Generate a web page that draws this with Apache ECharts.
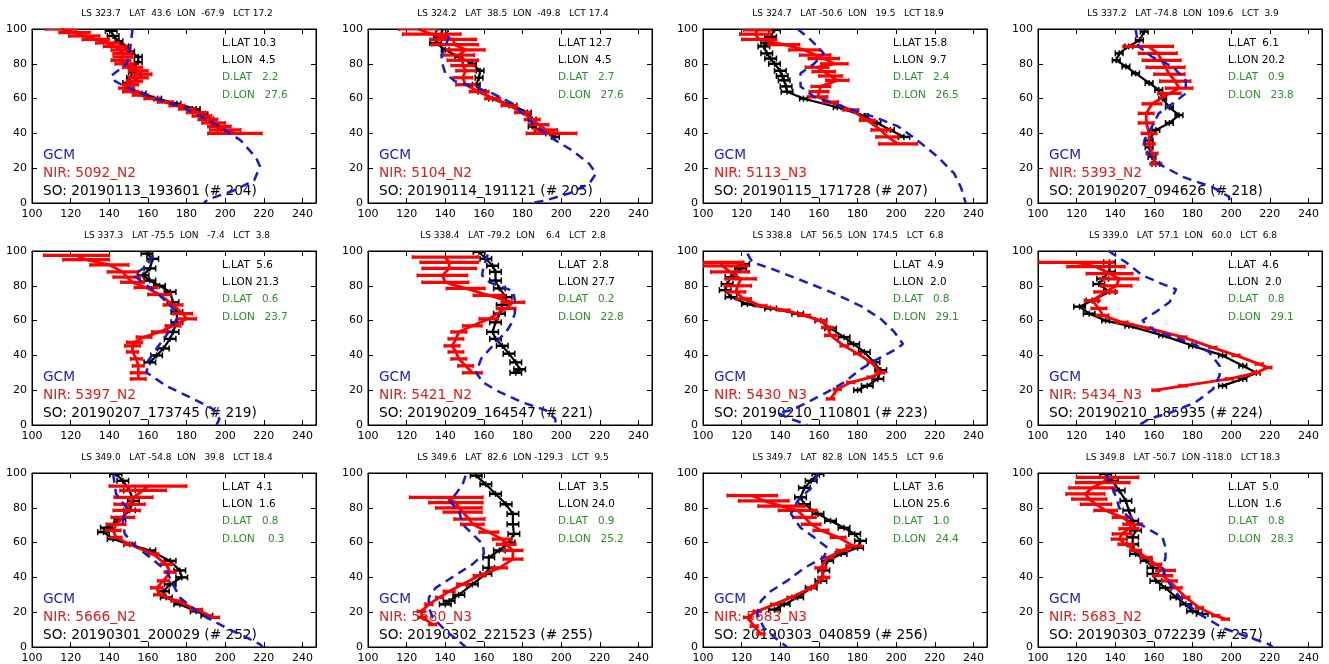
<!DOCTYPE html>
<html><head><meta charset="utf-8">
<script src="https://cdn.jsdelivr.net/npm/echarts@6.0.0/dist/echarts.min.js"></script>
<style>html,body{margin:0;padding:0;background:#fff}#c{width:1329px;height:664px}</style>
</head><body><div id="c"></div>
<script>
// ---------- axis ticks ----------
const xTicks = [100,120,140,160,180,200,220,240];
const yTicks = [0,20,40,60,80,100];
const X_MIN = 100, X_MAX = 247, Y_MIN = 0, Y_MAX = 100;

// ---------- panel texts ----------
const titles = [
 "LS 323.7   LAT  43.6  LON  -67.9   LCT 17.2",
 "LS 324.2   LAT  38.5  LON  -49.8   LCT 17.4",
 "LS 324.7   LAT -50.6  LON   19.5   LCT 18.9",
 "LS 337.2   LAT -74.8  LON  109.6   LCT  3.9",
 "LS 337.3   LAT -75.5  LON   -7.4   LCT  3.8",
 "LS 338.4   LAT -79.2  LON    6.4   LCT  2.8",
 "LS 338.8   LAT  56.5  LON  174.5   LCT  6.8",
 "LS 339.0   LAT  57.1  LON   60.0   LCT  6.8",
 "LS 349.0   LAT -54.8  LON   39.8   LCT 18.4",
 "LS 349.6   LAT  82.6  LON -129.3   LCT  9.5",
 "LS 349.7   LAT  82.8  LON  145.5   LCT  9.6",
 "LS 349.8   LAT -50.7  LON -118.0   LCT 18.3"
];
const lLat = ["10.3","12.7","15.8","6.1","5.6","2.8","4.9","4.6","4.1","3.5","3.6","5.0"];
const lLon = ["4.5","4.5","9.7","20.2","21.3","27.7","2.0","2.0","1.6","24.0","25.6","1.6"];
const dLat = ["2.2","2.7","2.4","0.9","0.6","0.2","0.8","0.8","0.8","0.9","1.0","0.8"];
const dLon = ["27.6","27.6","26.5","23.8","23.7","22.8","29.1","29.1","0.3","25.2","24.4","28.3"];
const nirLabels = ["5092_N2","5104_N2","5113_N3","5393_N2","5397_N2","5421_N2","5430_N3","5434_N3","5666_N2","5680_N3","5683_N3","5683_N2"];
const soLabels = ["20190113_193601 (# 204)","20190114_191121 (# 205)","20190115_171728 (# 207)","20190207_094626 (# 218)",
 "20190207_173745 (# 219)","20190209_164547 (# 221)","20190210_110801 (# 223)","20190210_185935 (# 224)",
 "20190301_200029 (# 252)","20190302_221523 (# 255)","20190303_040859 (# 256)","20190303_072239 (# 257)"];

// ---------- data: GCM [alt, T]; SO / NIR [alt, T, err] ----------
const gcm1 = [[100,152],[90,151],[80,149],[73,141],[70,143],[67,148],[61,161],[55,178],[46,194],[36,208],[26,216],[21,218],[13,215],[7,204],[2,191],[0,189]];
const so1  = [[99,141,3],[96,142,3],[93,145,2],[90,148,2],[87,151,2],[84,155,2],[81,155,2],[78,152,2],[75,152,2],[72,151,2],[69,149,2],[66,150,2],[63,157,2],[60,165,2],[57,175,2],[54,185,2],[51,189,2],[48,192,2],[45,195,2],[42,198,2]];
const nir1 = [[100,115,8],[98,122,8],[96,127,8],[94,133,7],[92,139,6],[90,143,6],[88,146,5],[86,147,5],[84,147,5],[82,146,5],[80,148,5],[78,152,5],[76,155,5],[74,157,5],[72,155,5],[70,153,4],[68,151,4],[66,149,4],[64,151,4],[62,156,4],[60,162,4],[58,169,4],[56,175,4],[54,180,4],[52,185,5],[50,188,5],[48,191,5],[46,194,6],[44,197,6],[42,200,8],[40,205,14]];

const gcm2 = [[96,142],[90,140],[85,138],[80,138.5],[74.5,140],[70,145],[67,154],[63,164.5],[57,175],[47.5,183.5],[38,194],[30,206],[22.5,214.5],[17,218],[11,214.5],[5.5,204],[1.5,192],[0,185]];
const so2  = [[100,138.5,3],[97,138,3],[95,137,3],[92,135,3],[88,140,2],[84,147,2],[80,154,2],[76,158,2],[72,157.5,2],[68,156,2],[64,159,2],[60,164.5,2],[56,175,2],[52,182.5,2],[48,185,2],[44,185,2],[42,188.5,2],[40,194,2],[38,197,2]];
const nir2 = [[100,126,10],[97,133,15],[94,144,12],[91,145,12],[88,150.5,10],[85,147,8],[82,149,8],[79,149,6],[76,150.5,5],[72,149,5],[68,150.5,5],[64,157.5,5],[60,164.5,4],[56,173,4],[52,180,4],[48,185,4],[45,188.5,5],[42,192,6],[40,195,13]];

const gcm3 = [[100,149],[93.5,156],[86,162.5],[80,157.5],[74.5,150.5],[67,150.5],[61,157.5],[55,173],[49.5,188.5],[44,201],[36,211],[26.5,221.5],[17,230],[9,233.5],[0,236]];
const so3  = [[99.5,137,3],[95.5,135,3],[92,133,3],[90,131.5,3],[86,133,3],[83,135,3],[80,137,3],[76,140,3],[73,141,3],[70.5,142,3],[67,143,3],[64,143.5,3],[60,152,2],[55,169.5,2],[50,183.5,2],[46,190,2],[42,197,2],[38,204,3]];
const nir3 = [[99.5,128,7],[97,127,8],[94,129,9],[91,142,8],[88,152.5,8],[85,158,8],[83,162.5,8],[80,168,7],[78,159,6],[75.5,162.5,6],[73,166,6],[70.5,169.5,6],[67,161,5],[64,160,5],[61,159.5,5],[58,166,4],[53.5,176.5,4],[47.5,185,4],[42,192,5],[38,195.5,6],[34,201,10]];

const gcm4 = [[100,150.5],[90,152],[84,159],[78.5,169.5],[70.5,176.5],[63,176.5],[57,169.5],[51.5,162.5],[44,159],[36,155],[30,156],[22.5,162.5],[15,175],[9,190.5],[3.5,199],[0,199]];
const so4  = [[98.5,155,2],[93.5,152.5,2],[90,147,2],[86,142,2],[82,140.5,2],[78.5,145.5,2],[74.5,150.5,2],[69,157.5,2],[65,162.5,2],[60,164.5,2],[55,168,2],[50.5,173,2],[46,168,2],[42,161,2],[36,157.5,2],[32,157.5,2],[26.5,159,2],[22.5,161,2]];
const nir4 = [[90,157,13],[86,162,10],[82,164,10],[78,166,10],[74,168,8],[70,171,8],[66,173,7],[63,168,6],[57,159,5],[51.5,156,4],[46,156,4],[40,157.5,4],[34,157.5,3],[28.5,159,3],[22.5,161,3]];

const gcm5 = [[97.5,162.5],[91.5,159.5],[86,152.5],[82,157.5],[74.5,166],[67,173],[61,175],[51.5,169.5],[44,164.5],[36,159.5],[30,159.5],[22.5,169.5],[15,183.5],[9,194],[3.5,197],[0,195.5]];
const so5  = [[98.5,159.5,3],[95.5,162.5,3],[90,161,3],[86,157.5,3],[83,161,3],[80,166,3],[76.5,171.5,3],[70.5,173,3],[65,175,3],[59,175,3],[53.5,173,3],[49.5,171.5,3],[44,168,3],[40,164.5,3],[36,161,3]];
const nir5 = [[97.5,123,17],[95,128,12],[92,140,10],[88,147,8],[85,149,7],[82,152,6],[79,159,6],[75,166,6],[69,173,5],[64,178,5],[61,180,5],[57,173,4],[53.5,166,4],[50.5,158,4],[47.5,153,4],[45.5,152,4],[42,152,3],[38,154,3],[34,155,3],[30,155,4],[26.5,155,4]];

const gcm6 = [[98,162],[92,160],[86,159],[82,163],[77,175],[72,176],[64,176],[58,174],[53.5,171.5],[45.5,164.5],[38,158.5],[30,156],[24.5,159.5],[19,168],[13,180],[8.5,192],[3.5,197],[0,197]];
const so6  = [[99.5,157.5,3],[95.5,161,3],[91.5,164.5,3],[88,166,3],[83,166,3],[78.5,168,3],[73.5,171.5,3],[69,169.5,3],[64,168,3],[59,166,3],[53.5,164.5,3],[49.5,166,3],[45.5,169.5,3],[41,173,3],[36,176.5,3],[32,178.5,3],[30,176.5,3]];
const nir6 = [[96.5,140,17],[93.5,142,15],[90,142,14],[86,138.5,13],[82,140,12],[78.5,150.5,10],[74.5,162.5,8],[70.5,175,6],[67,171.5,5],[61,162.5,5],[57,154,5],[53.5,147,4],[49.5,145.5,4],[45.5,143.5,4],[42,145.5,4],[38,147,4],[34,150.5,4],[30,154,5]];

const gcm7 = [[98.5,123],[93.5,125.5],[90,135],[84,149],[76.5,166],[68.5,181.5],[61,192],[53.5,199],[46.5,203.5],[43,199],[38,190.5],[32,181.5],[24.5,173],[19,164.5],[13,154],[8.5,145.5],[7,138.5],[3.5,145.5],[0,154]];
const so7  = [[92.5,121,3],[90,119.5,3],[85,114.5,3],[81,112.5,3],[77.5,111.5,3],[73.5,114.5,3],[69.5,123,3],[67,135,3],[64,149,3],[60,161,3],[55.5,166,3],[50.5,173,3],[46.5,178,3],[42,183.5,3],[36,188.5,3],[31.5,192,3],[26.5,190.5,3],[22.5,185,3],[20,180,2]];
const nir7 = [[93.5,109,12],[91.5,110,13],[88,114,10],[84,119.5,8],[80,118,7],[76.5,117,5],[72.5,121,4],[68.5,130,3],[66,142,3],[63,152.5,3],[60,161,3],[56,164.5,3],[51.5,166,3],[45.5,173,2],[41,180,2],[36,187,2],[30,192,2],[27.5,187,2],[24.5,176.5,2],[20.5,169.5,2],[15,166,2]];

const gcm8 = [[100,136.5],[93.5,145.5],[86,154],[81,164.5],[78,171.5],[70.5,168],[65,161],[60,154],[53.5,161],[47.5,178.5],[42,188.5],[34,194],[28.5,194],[20.5,190.5],[13,181.5],[7.5,169.5],[3.5,157.5],[0,152.5]];
const so8  = [[93.5,137,3],[88,137,3],[84,133.5,3],[81,131.5,3],[76.5,137,3],[71.5,128,3],[68,121.5,3],[64,126.5,3],[60,135,2],[57,147,2],[51.5,164.5,2],[45.5,180,2],[40,195.5,2],[34,206,2],[30,213,2],[26.5,206,2],[22.5,195.5,2]];
const nir8 = [[93.5,119.5,19],[91,130,15],[87,137,12],[84,142,10],[80,140.5,8],[76.5,135,6],[71.5,128,4],[67,131.5,4],[63,133.5,3],[59,143.5,3],[55.5,157.5,2],[50.5,175,2],[44.5,190.5,2],[40,202.5,2],[35,214.5,2],[33,219,2],[30,213,2],[26.5,199,2],[22.5,175,2],[20,161,2]];

const gcm9 = [[99.5,142],[88,143.5],[80,149],[72.5,147],[65,148],[59,152.5],[51.5,161],[44,169.5],[36,173],[28.5,176.5],[19,187],[11,200.5],[5.5,211],[1.5,218],[0,219.5]];
const so9  = [[99.5,143.5,3],[95.5,147,3],[90,150.5,3],[84,152.5,3],[78.5,150.5,3],[73.5,145.5,3],[68.5,138.5,3],[66,137,3],[62,142,3],[59,150.5,3],[55.5,161,3],[49.5,171.5,3],[44,176.5,3],[40,177.5,3],[36,171.5,3],[32,168,3],[28.5,169.5,3],[24.5,176.5,3],[20.5,185,3],[18,190.5,3]];
const nir9 = [[92.5,160,20],[90,157.5,12],[86,152.5,10],[82,150.5,8],[78.5,149,7],[74.5,147,6],[70.5,143.5,5],[67,142,4],[63,143.5,3],[59,150.5,3],[53.5,162.5,3],[47.5,169.5,3],[43,171.5,3],[38,168,3],[34,164.5,3],[30,166,3],[26.5,175,3],[21.5,185,3],[17,194,3]];

const gcm10 = [[98.5,150.5],[93.5,149],[88,145.5],[84,142],[78.5,147],[70.5,149],[65,154],[59,159.5],[53.5,160],[47.5,154],[40,143.5],[34,135],[28.5,131.5],[22.5,131.5],[17,133.5],[9,140.5],[3.5,147],[0,150.5]];
const so10  = [[98.5,156,3],[93.5,161,3],[88,166,3],[82,171.5,3],[76.5,175,3],[70.5,175,3],[65,175.5,3],[60,173,3],[55.5,168,3],[51.5,162.5,3],[45.5,162.5,3],[42,161,3],[36,154,3],[30,147,3],[26.5,142,3],[24.5,140,3]];
const nir10 = [[86,140.5,19],[83,145.5,14],[80,147,12],[77.5,149,10],[73.5,152.5,8],[70.5,154,6],[66,162.5,5],[62,169.5,5],[59,171.5,5],[55.5,175,5],[50.5,175,5],[45.5,168,4],[41,157.5,3],[36,149,3],[32,142,3],[28.5,137,2],[24.5,131.5,2],[20.5,127.5,2],[17,128,2],[13,133.5,2]];

const gcm11 = [[99.5,159.5],[91.5,156],[84,149],[76.5,145.5],[68.5,150.5],[63,157.5],[57,164.5],[51.5,162.5],[45.5,152.5],[38,143.5],[32,135],[26.5,130],[19,128],[11,131.5],[5.5,137],[0,143.5]];
const so11  = [[99.5,159.5,3],[95.5,156,3],[91.5,152.5,3],[86,150.5,3],[82,152.5,3],[76.5,159.5,3],[72.5,166,3],[68.5,173,3],[65,178.5,3],[61,181.5,3],[57,180,3],[53.5,171.5,3],[49.5,164.5,3],[44,162.5,3],[38,161,3],[34,156,3],[28.5,149,3],[24.5,142,3],[21.5,137,3]];
const nir11 = [[87,125.5,13],[84,131.5,13],[81,140.5,12],[78.5,149,10],[74.5,152.5,6],[70.5,156,5],[67,161,4],[63,170,4],[58,178,4],[55.5,172,3],[51.5,164.5,3],[45.5,161,3],[40,162.5,3],[34,156,2],[28.5,145.5,2],[24.5,137,2],[20.5,128,2],[17,123,2],[12,126.5,2],[7.5,130,2]];

const gcm12 = [[99.5,135],[91.5,138.5],[86,140.5],[80,142],[74.5,147],[68.5,156],[63,164.5],[57,166],[51.5,166],[45.5,164.5],[40,166],[34,169.5],[26.5,175],[19,183.5],[11,195.5],[5.5,209.5],[1.5,219.5],[0,221.5]];
const so12  = [[99.5,135,3],[95.5,138.5,3],[90,142,3],[84,145.5,3],[78.5,147,3],[72.5,149,3],[67,150.5,3],[63,149,3],[59,149,3],[53.5,150.5,3],[49.5,156,3],[45.5,159.5,3],[42,159.5,3],[38,161,3],[34,166,3],[28.5,171.5,3],[24.5,176.5,3],[20.5,180,3],[19,185,3]];
const nir12 = [[97.5,136,16],[94.5,133.5,14],[91.5,128,12],[88,124.5,10],[85,126.5,9],[82,130,8],[78.5,135,6],[74.5,143.5,5],[70.5,149,5],[68,147,5],[65,143.5,5],[62,142,4],[59,145.5,4],[55.5,150.5,3],[51.5,156,3],[47.5,161,3],[44,166,5],[41,164.5,5],[38,168,4],[34,171.5,3],[28.5,176.5,2],[22.5,183.5,2],[18,192,2],[16,197,2]];

const panels = [
 [gcm1,so1,nir1],[gcm2,so2,nir2],[gcm3,so3,nir3],[gcm4,so4,nir4],
 [gcm5,so5,nir5],[gcm6,so6,nir6],[gcm7,so7,nir7],[gcm8,so8,nir8],
 [gcm9,so9,nir9],[gcm10,so10,nir10],[gcm11,so11,nir11],[gcm12,so12,nir12]
];

// ---------- layout / style ----------
const colLeft = [32,368,703,1038], rowTop = [29,251,473], W = 284, H = 174;
const FONT = "'DejaVu Sans', sans-serif";
const C_GCM = '#1a1acd', C_NIR = '#ff0000', C_SO = '#000000', C_GREEN = '#2e8b2e';

function errRender(color, lw, cap, mid) {
  return function (params, api) {
    const t = api.value(0), a = api.value(1), e = api.value(2);
    const p1 = api.coord([t - e, a]), p2 = api.coord([t + e, a]), pc = api.coord([t, a]);
    const st = { stroke: color, lineWidth: lw };
    const cst = { stroke: color, lineWidth: 1.5 };
    const kids = [
      { type: 'line', shape: { x1: p1[0], y1: p1[1], x2: p2[0], y2: p2[1] }, style: st },
      { type: 'line', shape: { x1: p1[0], y1: p1[1] - cap, x2: p1[0], y2: p1[1] + cap }, style: cst },
      { type: 'line', shape: { x1: p2[0], y1: p2[1] - cap, x2: p2[0], y2: p2[1] + cap }, style: cst }
    ];
    if (mid) kids.push({ type: 'line', shape: { x1: pc[0], y1: pc[1] - cap, x2: pc[0], y2: pc[1] + cap }, style: cst });
    return { type: 'group', children: kids };
  };
}

const grids = [], xAxes = [], yAxes = [], series = [], graphics = [];
function axisBase(i) {
  return { gridIndex: i, type: 'value', splitLine: { show: false },
    axisLine: { show: true, onZero: false, lineStyle: { color: '#000', width: 1 } },
    axisTick: { show: true, inside: true, length: 5, lineStyle: { color: '#000', width: 1 } } };
}
panels.forEach((p, i) => {
  const r = Math.floor(i / 4), c = i % 4, L = colLeft[c], T = rowTop[r];
  grids.push({ left: L, top: T, width: W, height: H, show: true, borderColor: '#000', borderWidth: 1, backgroundColor: 'rgba(0,0,0,0)' });
  xAxes.push(Object.assign(axisBase(i), { position: 'bottom', min: X_MIN, max: X_MAX, interval: 20,
    axisLabel: { show: true, color: '#000', fontSize: 11, fontFamily: FONT, margin: 6, showMaxLabel: false,
      formatter: v => (xTicks.indexOf(v) >= 0 ? String(v) : '') } }));
  xAxes.push(Object.assign(axisBase(i), { position: 'top', min: X_MIN, max: X_MAX, interval: 20, axisLabel: { show: false } }));
  yAxes.push(Object.assign(axisBase(i), { position: 'left', min: Y_MIN, max: Y_MAX, interval: 20,
    axisLabel: { show: true, color: '#000', fontSize: 11, fontFamily: FONT, margin: 5,
      formatter: v => (yTicks.indexOf(v) >= 0 ? String(v) : '') } }));
  yAxes.push(Object.assign(axisBase(i), { position: 'right', min: Y_MIN, max: Y_MAX, interval: 20, axisLabel: { show: false } }));

  const [gcm, so, nir] = p;
  const xi = 2 * i, yi = 2 * i;
  series.push({ type: 'custom', xAxisIndex: xi, yAxisIndex: yi, renderItem: errRender(C_SO, 2.5, 3, true), clip: true, silent: true, z: 2,
    encode: { x: 0, y: 1 }, data: so.map(d => [d[1], d[0], d[2]]) });
  series.push({ type: 'line', xAxisIndex: xi, yAxisIndex: yi, showSymbol: false, clip: true, silent: true, z: 3,
    lineStyle: { color: C_SO, width: 2.2 }, data: so.map(d => [d[1], d[0]]) });
  series.push({ type: 'custom', xAxisIndex: xi, yAxisIndex: yi, renderItem: errRender(C_NIR, 3.2, 2, false), clip: true, silent: true, z: 4,
    encode: { x: 0, y: 1 }, data: nir.map(d => [d[1], d[0], d[2]]) });
  series.push({ type: 'line', xAxisIndex: xi, yAxisIndex: yi, showSymbol: false, clip: true, silent: true, z: 5,
    lineStyle: { color: C_NIR, width: 2.8 }, data: nir.map(d => [d[1], d[0]]) });
  series.push({ type: 'line', xAxisIndex: xi, yAxisIndex: yi, showSymbol: false, clip: true, silent: true, z: 6,
    lineStyle: { color: C_GCM, width: 2.5, type: [9, 6] }, data: gcm.map(d => [d[1], d[0]]) });

  // title
  graphics.push({ type: 'text', x: L + W / 2 + 3, y: T - 15, z: 1,
    style: { text: titles[i], fill: '#000', font: '9px ' + FONT, align: 'center', verticalAlign: 'middle' } });
  // top-right block
  const tx = L + 190;
  const right = [
    ['L.LAT' + lLat[i].padStart(5, ' '), '#000', 14],
    ['L.LON' + lLon[i].padStart(5, ' '), '#000', 31.5],
    ['D.LAT' + dLat[i].padStart(6, ' '), C_GREEN, 48.5],
    ['D.LON' + dLon[i].padStart(7, ' '), C_GREEN, 66]
  ];
  right.forEach(([t, col, dy]) => graphics.push({ type: 'text', x: tx, y: T + dy, z: 1,
    style: { text: t, fill: col, font: '10.4px ' + FONT, align: 'left', verticalAlign: 'middle' } }));
  // bottom-left legend
  const lg = [['GCM', C_GCM, 126], ['NIR: ' + nirLabels[i], '#e01b1b', 144], ['SO: ' + soLabels[i], '#000', 162]];
  lg.forEach(([t, col, dy]) => graphics.push({ type: 'text', x: L + 11, y: T + dy, z: 1,
    style: { text: t, fill: col, font: '13.7px ' + FONT, align: 'left', verticalAlign: 'middle' } }));
});

const chart = echarts.init(document.getElementById('c'), null, { renderer: 'canvas', width: 1329, height: 664 });
chart.setOption({
  animation: false,
  backgroundColor: '#fff',
  grid: grids, xAxis: xAxes, yAxis: yAxes, series: series,
  graphic: { elements: graphics }
});
</script>
</body></html>
